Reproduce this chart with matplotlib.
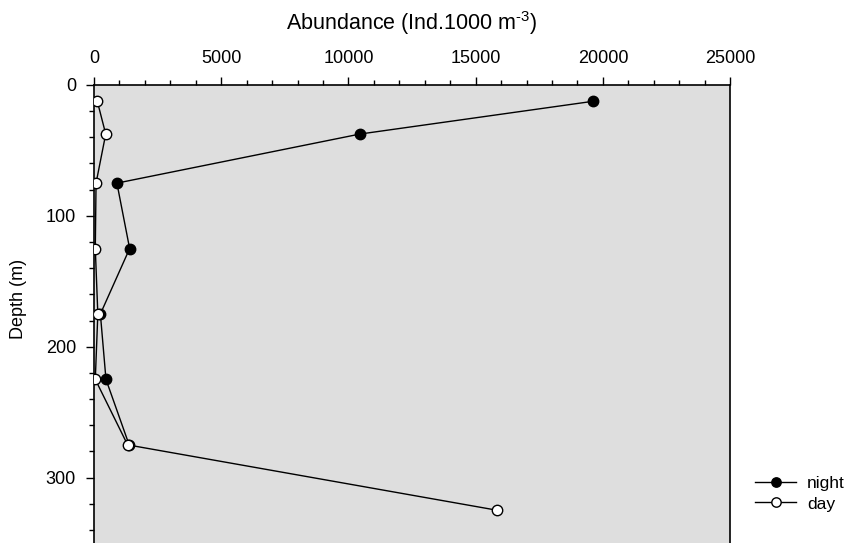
import matplotlib.pyplot as plt
from matplotlib.ticker import MultipleLocator

plt.rcParams['font.family'] = ['Liberation Sans', 'DejaVu Sans']
plt.rcParams['mathtext.fontset'] = 'custom'
plt.rcParams['mathtext.rm'] = 'Liberation Sans'

depth = [12.5, 37.5, 75, 125, 175, 225, 275, 325]
night = [19600, 10450, 900, 1400, 250, 470, 1380]   # no 325 m sample at night
day = [130, 460, 80, 50, 150, 50, 1320, 15850]

fig = plt.figure(figsize=(8.47, 5.43), dpi=100)
ax = fig.add_axes([0.111, 0.0, 0.751, 0.8435])
ax.set_facecolor('#dedede')

ax.plot(night, depth[:len(night)], '-o', color='black', lw=1, ms=7.5,
        mfc='black', mec='black', label='night', zorder=3)
ax.plot(day, depth, '-o', color='black', lw=1, ms=7.5,
        mfc='white', mec='black', label='day', zorder=4)

ax.set_xlim(0, 25000)
ax.set_ylim(350, 0)
ax.xaxis.tick_top()
ax.xaxis.set_label_position('top')
ax.xaxis.set_major_locator(MultipleLocator(5000))
ax.xaxis.set_minor_locator(MultipleLocator(1000))
ax.yaxis.set_major_locator(MultipleLocator(100))
ax.yaxis.set_minor_locator(MultipleLocator(20))
ax.tick_params(which='major', length=6, width=1, labelsize=13, pad=7)
ax.tick_params(which='minor', length=3.5, width=1)
ax.spines['bottom'].set_visible(False)
for s in ['top', 'left', 'right']:
    ax.spines[s].set_linewidth(1.2)

ax.set_xlabel(r'Abundance (Ind.1000 m$^{\text{-3}}$)', fontsize=15.5, labelpad=14)
fig.text(0.022, 0.45, 'Depth (m)', rotation=90, fontsize=13,
         ha='center', va='center')

ax.legend(loc='upper left', bbox_to_anchor=(0.891, 0.1234),
          bbox_transform=fig.transFigure, frameon=False, fontsize=12.5,
          handlelength=2.4, handletextpad=0.6, labelspacing=0.3,
          borderaxespad=0, borderpad=0, markerscale=0.9)

fig.savefig('out.png', dpi=100)
